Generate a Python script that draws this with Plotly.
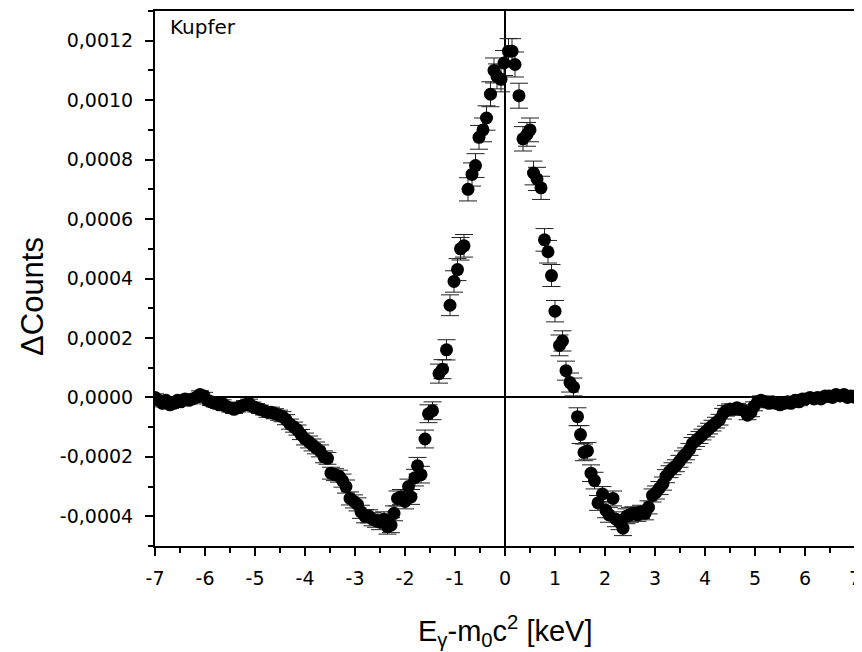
import plotly.graph_objects as go

# Energy offset E_gamma - m0c^2 [keV]
x_kev = [
    -7.00, -6.92, -6.85, -6.78, -6.70, -6.62, -6.55, -6.48, -6.40, -6.32,
    -6.25, -6.18, -6.10, -6.02, -5.95, -5.88, -5.80, -5.72, -5.65, -5.58,
    -5.50, -5.42, -5.35, -5.28, -5.20, -5.12, -5.05, -4.98, -4.90, -4.82,
    -4.75, -4.68, -4.60, -4.52, -4.45, -4.38, -4.30, -4.22, -4.15, -4.08,
    -4.00, -3.92, -3.85, -3.78, -3.70, -3.62, -3.55, -3.48, -3.40, -3.32,
    -3.25, -3.18, -3.10, -3.02, -2.95, -2.88, -2.80, -2.72, -2.65, -2.58,
    -2.50, -2.42, -2.35, -2.28, -2.22, -2.15, -2.08, -2.00, -1.93, -1.88,
    -1.80, -1.75, -1.68, -1.60, -1.53, -1.45, -1.32, -1.25, -1.17, -1.10,
    -1.02, -0.95, -0.89, -0.82, -0.74, -0.66, -0.59, -0.52, -0.44, -0.37,
    -0.29, -0.22, -0.16, -0.08, -0.02, 0.07, 0.14, 0.20, 0.28, 0.36,
    0.44, 0.50, 0.57, 0.64, 0.72, 0.79, 0.86, 0.93, 1.00, 1.09,
    1.15, 1.22, 1.30, 1.37, 1.45, 1.51, 1.58, 1.65, 1.72, 1.79,
    1.86, 1.95, 2.02, 2.08, 2.16, 2.22, 2.29, 2.36, 2.43, 2.50,
    2.57, 2.65, 2.72, 2.80, 2.87, 2.95, 3.02, 3.09, 3.16, 3.22,
    3.29, 3.35, 3.42, 3.49, 3.56, 3.62, 3.69, 3.75, 3.82, 3.89,
    3.95, 4.02, 4.08, 4.15, 4.22, 4.29, 4.36, 4.42, 4.50, 4.57,
    4.64, 4.71, 4.78, 4.85, 4.92, 4.98, 5.05, 5.12, 5.20, 5.28,
    5.35, 5.42, 5.50, 5.58, 5.65, 5.72, 5.80, 5.88, 5.95, 6.02,
    6.10, 6.18, 6.25, 6.32, 6.40, 6.48, 6.55, 6.62, 6.70, 6.78,
    6.85, 6.92, 7.00,
]

# Delta counts, in units of 1e-4
d_counts_e4 = [
    0.0, -0.1, -0.2, -0.1, -0.25, -0.2, -0.1, -0.15, -0.05, -0.1,
    -0.05, 0.0, 0.1, 0.05, -0.1, -0.15, -0.2, -0.25, -0.2, -0.3,
    -0.35, -0.4, -0.35, -0.3, -0.25, -0.2, -0.3, -0.35, -0.4, -0.45,
    -0.5, -0.5, -0.55, -0.6, -0.65, -0.75, -0.9, -1.0, -1.1, -1.25,
    -1.4, -1.5, -1.6, -1.7, -1.8, -2.0, -2.05, -2.55, -2.6, -2.65,
    -2.8, -3.0, -3.4, -3.5, -3.6, -3.85, -4.0, -4.0, -4.1, -4.15,
    -4.2, -4.1, -4.35, -4.3, -3.9, -3.4, -3.35, -3.5, -3.0, -3.35,
    -2.7, -2.3, -2.6, -1.4, -0.55, -0.45, 0.8, 0.95, 1.6, 3.1,
    3.9, 4.3, 5.0, 5.1, 7.0, 7.5, 7.8, 8.75, 9.0, 9.4,
    10.2, 11.0, 10.8, 10.7, 11.25, 11.65, 11.65, 11.2, 10.15, 8.7,
    8.85, 9.0, 7.55, 7.35, 7.05, 5.3, 4.9, 4.1, 2.9, 1.75,
    1.9, 0.9, 0.5, 0.35, -0.65, -1.25, -1.85, -1.8, -2.55, -2.8,
    -3.55, -3.25, -3.8, -3.95, -3.4, -4.1, -4.2, -4.4, -4.0, -3.95,
    -3.9, -3.95, -3.85, -3.9, -3.7, -3.3, -3.2, -3.05, -2.9, -2.65,
    -2.5, -2.4, -2.3, -2.15, -2.0, -1.9, -1.75, -1.55, -1.45, -1.35,
    -1.25, -1.15, -1.05, -0.95, -0.85, -0.75, -0.55, -0.45, -0.4, -0.4,
    -0.35, -0.4, -0.45, -0.6, -0.5, -0.3, -0.15, -0.1, -0.15, -0.2,
    -0.15, -0.2, -0.25, -0.2, -0.15, -0.2, -0.1, -0.15, -0.05, -0.05,
    0.0, -0.05, 0.0, -0.05, 0.05, 0.05, 0.0, 0.1, 0.05, 0.1,
    0.0, 0.05, 0.0,
]

# Error bar half-lengths, in units of 1e-4
d_err_e4 = [
    0.12, 0.12, 0.12, 0.12, 0.12, 0.12, 0.12, 0.12, 0.12, 0.12,
    0.12, 0.12, 0.12, 0.12, 0.12, 0.12, 0.12, 0.12, 0.12, 0.12,
    0.14, 0.14, 0.14, 0.14, 0.14, 0.14, 0.14, 0.14, 0.14, 0.14,
    0.17, 0.17, 0.17, 0.17, 0.17, 0.17, 0.17, 0.17, 0.17, 0.17,
    0.20, 0.20, 0.20, 0.20, 0.20, 0.20, 0.20, 0.20, 0.20, 0.20,
    0.22, 0.22, 0.22, 0.22, 0.22, 0.22, 0.22, 0.22, 0.22, 0.22,
    0.25, 0.25, 0.25, 0.25, 0.25, 0.25, 0.25, 0.25, 0.25, 0.25,
    0.28, 0.28, 0.28, 0.30, 0.30, 0.30, 0.32, 0.32, 0.34, 0.35,
    0.36, 0.37, 0.38, 0.38, 0.39, 0.39, 0.40, 0.40, 0.40, 0.41,
    0.42, 0.42, 0.42, 0.42, 0.42, 0.42, 0.42, 0.42, 0.42, 0.41,
    0.40, 0.40, 0.40, 0.39, 0.39, 0.38, 0.38, 0.37, 0.36, 0.35,
    0.34, 0.32, 0.32, 0.30, 0.30, 0.30, 0.28, 0.28, 0.28, 0.28,
    0.25, 0.25, 0.25, 0.25, 0.25, 0.25, 0.25, 0.25, 0.25, 0.25,
    0.22, 0.22, 0.22, 0.22, 0.22, 0.22, 0.22, 0.22, 0.22, 0.22,
    0.20, 0.20, 0.20, 0.20, 0.20, 0.20, 0.20, 0.20, 0.20, 0.20,
    0.18, 0.18, 0.18, 0.18, 0.18, 0.18, 0.18, 0.18, 0.18, 0.18,
    0.15, 0.15, 0.15, 0.15, 0.15, 0.15, 0.15, 0.15, 0.15, 0.15,
    0.13, 0.13, 0.13, 0.13, 0.13, 0.13, 0.13, 0.13, 0.13, 0.13,
    0.12, 0.12, 0.12, 0.12, 0.12, 0.12, 0.12, 0.12, 0.12, 0.12,
    0.12, 0.12, 0.12,
]

x_tick_vals = [-7, -6, -5, -4, -3, -2, -1, 0, 1, 2, 3, 4, 5, 6, 7]
y_tick_vals = [-0.0004, -0.0002, 0.0, 0.0002, 0.0004, 0.0006, 0.0008, 0.0010, 0.0012]
y_tick_text = ["-0,0004", "-0,0002", "0,0000", "0,0002", "0,0004",
               "0,0006", "0,0008", "0,0010", "0,0012"]

label_text = "Kupfer"
x_title = "E<sub>γ</sub>-m<sub>0</sub>c<sup>2</sup> [keV]"
y_title = "ΔCounts"

scale = 1e-4
y_vals = [v * scale for v in d_counts_e4]
e_vals = [v * scale for v in d_err_e4]

TICK_FONT = "DejaVu Sans, Liberation Sans, Arial, sans-serif"
TITLE_FONT = "Liberation Sans, Arial, sans-serif"

fig = go.Figure()
fig.add_trace(go.Scatter(
    x=x_kev, y=y_vals, mode="markers",
    marker=dict(symbol="circle", size=13, color="black", line=dict(width=0)),
    error_y=dict(type="data", array=e_vals, visible=True,
                 color="#222222", thickness=1, width=9),
    showlegend=False,
))

axis_common = dict(
    showline=True, linecolor="black", linewidth=2, mirror=True,
    showgrid=False, zeroline=True, zerolinecolor="black", zerolinewidth=2,
    ticks="outside", tickcolor="black", tickwidth=1.5, ticklen=8,
    tickfont=dict(family=TICK_FONT, size=19, color="black"),
    ticklabeloverflow="allow",
)

# The page body adds an 8 px offset, so the figure is sized to the visible area.
fig.update_layout(
    width=854, height=644,
    margin=dict(l=147, r=2, t=1, b=106),
    paper_bgcolor="white", plot_bgcolor="white",
    xaxis=dict(
        range=[-7, 7], tickmode="array", tickvals=x_tick_vals,
        ticktext=[str(v) for v in x_tick_vals],
        minor=dict(dtick=0.5, tick0=0, ticks="outside", ticklen=5,
                   tickcolor="black", tickwidth=1.5),
        ticklabelstandoff=6,
        **axis_common,
    ),
    yaxis=dict(
        range=[-0.0005, 0.0013], tickmode="array", tickvals=y_tick_vals,
        ticktext=y_tick_text,
        minor=dict(dtick=0.0001, tick0=0, ticks="outside", ticklen=5,
                   tickcolor="black", tickwidth=1.5),
        ticklabelstandoff=8,
        **axis_common,
    ),
    annotations=[
        dict(text=label_text, xref="paper", yref="paper", x=0.0184, y=0.97,
             xanchor="left", yanchor="middle", showarrow=False,
             font=dict(family=TICK_FONT, size=20, color="black")),
        dict(text=x_title, xref="paper", yref="paper", x=0.5, y=-0.158,
             xanchor="center", yanchor="middle", showarrow=False,
             font=dict(family=TITLE_FONT, size=29, color="black")),
        dict(text=y_title, xref="paper", yref="paper", x=-0.176, y=0.467,
             xanchor="center", yanchor="middle", showarrow=False, textangle=-90,
             font=dict(family=TITLE_FONT, size=31, color="black")),
    ],
)

fig.write_html("out.html")
